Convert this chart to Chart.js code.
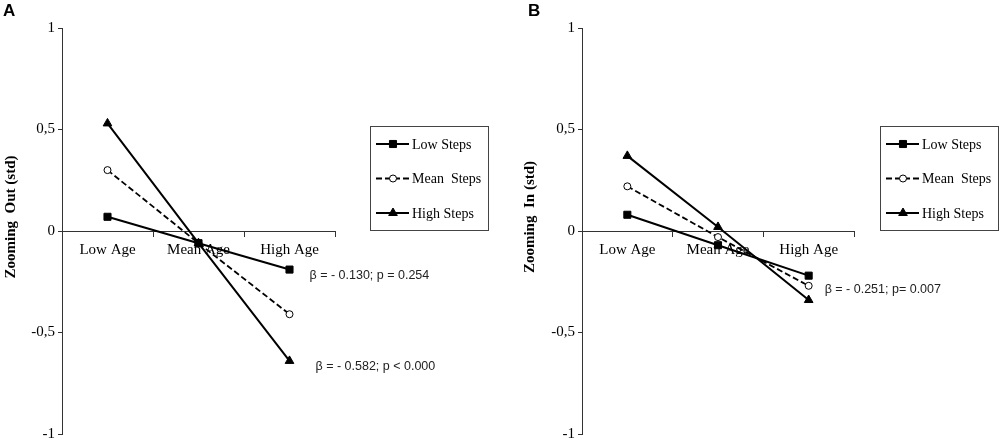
<!DOCTYPE html>
<html>
<head>
<meta charset="utf-8">
<script src="https://cdn.jsdelivr.net/npm/chart.js@4.4.1/dist/chart.umd.min.js"></script>
<style>
  html, body { margin: 0; padding: 0; background: #fff; }
  #wrap { position: relative; width: 1000px; height: 446px; }
  canvas { position: absolute; top: 0; }
</style>
</head>
<body>
<div id="wrap">
  <canvas id="chartA" width="500" height="446" style="left:0"></canvas>
  <canvas id="chartB" width="500" height="446" style="left:500px"></canvas>
</div>
<script>
const ageGroups = ['Low Age', 'Mean Age', 'High Age']
const seriesNames = ['Low Steps', 'Mean  Steps', 'High Steps']
const yTicks = [-1, -0.5, 0, 0.5, 1]

// panel A - zooming out
const lowStepsOut = [0.07, -0.06, -0.19]
const meanStepsOut = [0.30, -0.06, -0.41]
const highStepsOut = [0.53, -0.06, -0.64]

// panel B - zooming in
const lowStepsIn = [0.08, -0.07, -0.22]
const meanStepsIn = [0.22, -0.03, -0.27]
const highStepsIn = [0.37, 0.02, -0.34]

Chart.defaults.font.family = '"Liberation Serif", "Times New Roman", serif'
Chart.defaults.color = '#000'

const SANS = '"Liberation Sans", Arial, sans-serif'
const SERIF = '"Liberation Serif", "Times New Roman", serif'

// letter, rotated axis title, beta notes and the boxed legend
const extras = {
  id: 'extras',
  afterDraw(chart, args, opts) {
    const ctx = chart.ctx
    const xs = chart.scales.x
    const ys = chart.scales.y
    ctx.save()
    ctx.fillStyle = '#000'
    ctx.font = 'bold 17px ' + SANS
    ctx.textAlign = 'left'
    ctx.textBaseline = 'top'
    ctx.fillText(opts.letter, opts.letterX, 3)

    ctx.save()
    ctx.translate(opts.titleX, 217)
    ctx.rotate(-Math.PI / 2)
    ctx.font = 'bold 15px ' + SERIF
    ctx.textAlign = 'center'
    ctx.textBaseline = 'middle'
    ctx.fillText(opts.title, 0, 0)
    ctx.restore()

    ctx.font = '12.5px ' + SANS
    ctx.fillStyle = '#222'
    ctx.textBaseline = 'middle'
    opts.notes.forEach(n => {
      const px = xs.getPixelForValue(ageGroups.indexOf(n.at)) + n.dx
      ctx.fillText(n.text, px, ys.getPixelForValue(n.value))
    })

    const lg = opts.legend
    ctx.strokeStyle = '#444'
    ctx.lineWidth = 1
    ctx.strokeRect(lg.x + 0.5, lg.y + 0.5, lg.w, lg.h)
    chart.data.datasets.forEach((ds, i) => {
      const ly = lg.y + 18 + i * 34.5
      ctx.beginPath()
      ctx.setLineDash(ds.borderDash || [])
      ctx.lineWidth = ds.borderWidth
      ctx.strokeStyle = '#000'
      ctx.moveTo(lg.x + 6, ly)
      ctx.lineTo(lg.x + 39, ly)
      ctx.stroke()
      ctx.setLineDash([])
      ctx.fillStyle = ds.pointBackgroundColor
      ctx.lineWidth = ds.pointBorderWidth
      Chart.helpers.drawPoint(ctx, {
        pointStyle: ds.pointStyle, radius: ds.pointRadius, rotation: 0, borderWidth: ds.pointBorderWidth
      }, lg.x + 23, ly)
      ctx.fillStyle = '#000'
      ctx.font = '14px ' + SERIF
      ctx.fillText(ds.label, lg.x + 42, ly + 1)
    })
    ctx.restore()
  }
}

function makeDatasets(low, mean, high) {
  return [
    { label: seriesNames[0], data: low, borderColor: '#000', borderWidth: 2,
      pointStyle: 'rect', pointRadius: 5, pointBackgroundColor: '#000', pointBorderColor: '#000', pointBorderWidth: 1 },
    { label: seriesNames[1], data: mean, borderColor: '#000', borderWidth: 1.8, borderDash: [6, 3],
      pointStyle: 'circle', pointRadius: 3.5, pointBackgroundColor: '#fff', pointBorderColor: '#000', pointBorderWidth: 1 },
    { label: seriesNames[2], data: high, borderColor: '#000', borderWidth: 2,
      pointStyle: 'triangle', pointRadius: 5, pointBackgroundColor: '#000', pointBorderColor: '#000', pointBorderWidth: 1 }
  ]
}

function buildChart(id, datasets, cfg) {
  return new Chart(document.getElementById(id), {
    type: 'line',
    data: { labels: ageGroups, datasets: datasets },
    plugins: [extras],
    options: {
      responsive: false,
      animation: false,
      devicePixelRatio: 1,
      layout: { padding: { left: 0, right: 500 - cfg.right, top: 28, bottom: 11 } },
      elements: { line: { tension: 0 } },
      plugins: {
        legend: { display: false },
        tooltip: { enabled: false },
        extras: cfg.extras
      },
      scales: {
        x: {
          type: 'category',
          position: { y: 0 },
          offset: true,
          grid: { display: true, drawOnChartArea: false, drawTicks: true, tickLength: 5, color: '#333', offset: true },
          border: { display: true, color: '#333', width: 1 },
          ticks: { font: { size: 15 }, color: '#000', padding: 5, maxRotation: 0, autoSkip: false }
        },
        y: {
          min: -1,
          max: 1,
          afterBuildTicks: s => { s.ticks = yTicks.map(v => ({ value: v })) },
          afterFit: s => { s.width = cfg.left },
          grid: { display: true, drawOnChartArea: false, drawTicks: true, tickLength: 4, color: '#333' },
          border: { display: true, color: '#333', width: 1 },
          ticks: { font: { size: 15 }, color: '#000', padding: 3, callback: v => String(v).replace('.', ',') }
        }
      }
    }
  })
}

buildChart('chartA', makeDatasets(lowStepsOut, meanStepsOut, highStepsOut), {
  left: 62, right: 335,
  extras: {
    letter: 'A', letterX: 3, title: 'Zooming  Out (std)', titleX: 11,
    legend: { x: 370, y: 126, w: 118, h: 104 },
    notes: [
      { text: 'β = - 0.130; p = 0.254', at: 'High Age', value: -0.22, dx: 20 },
      { text: 'β = - 0.582; p < 0.000', at: 'High Age', value: -0.668, dx: 26 }
    ]
  }
})

buildChart('chartB', makeDatasets(lowStepsIn, meanStepsIn, highStepsIn), {
  left: 82, right: 354,
  extras: {
    letter: 'B', letterX: 28, title: 'Zooming  In (std)', titleX: 30,
    legend: { x: 380, y: 126, w: 118, h: 104 },
    notes: [
      { text: 'β = - 0.251; p= 0.007', at: 'High Age', value: -0.29, dx: 16 }
    ]
  }
})
</script>
</body>
</html>
